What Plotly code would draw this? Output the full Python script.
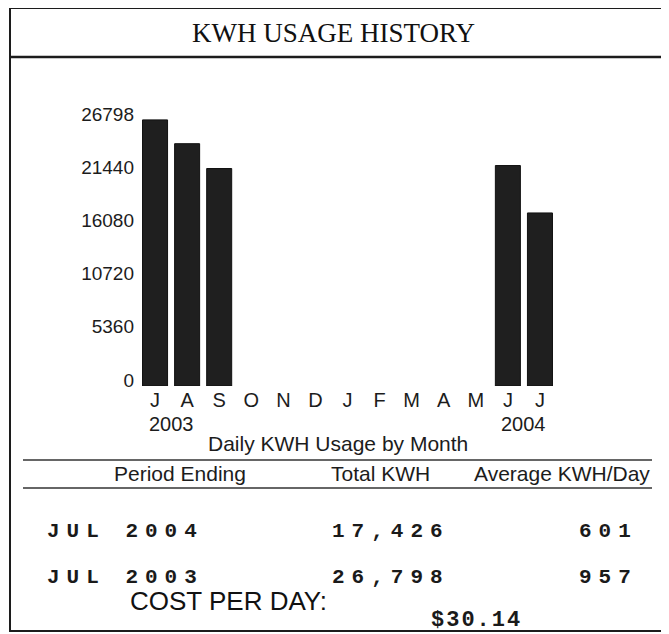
import plotly.graph_objects as go

# ---- data ----
month_labels = ["J", "A", "S", "O", "N", "D", "J", "F", "M", "A", "M", "J", "J"]
kwh_values = [26798, 24400, 21900, None, None, None, None, None, None, None, None, 22200, 17426]
year_labels = ["2003", "2004"]
y_tick_values = [0, 5360, 10720, 16080, 21440, 26798]

title_text = "KWH USAGE HISTORY"
axis_caption = "Daily KWH Usage by Month"
table_headers = ["Period Ending", "Total KWH", "Average KWH/Day"]
period_ending = ["JUL 2004", "JUL 2003"]
total_kwh = ["17,426", "26,798"]
avg_kwh_day = ["601", "957"]
cost_label = "COST PER DAY:"
cost_value = "$30.14"

# ---- layout geometry (window pixels; the page body adds an 8px offset) ----
OFF = 8
W_FIG, H_FIG = 669 - OFF, 634 - OFF
PLOT_L, PLOT_R, PLOT_T, PLOT_B = 139, 556, 100, 386  # in window pixels
ML = PLOT_L - OFF
MR = W_FIG - (PLOT_R - OFF)
MT = PLOT_T - OFF
MB = H_FIG - (PLOT_B - OFF)
PW = PLOT_R - PLOT_L
PH = PLOT_B - PLOT_T


def px(x):
    return (x - PLOT_L) / PW


def py(y):
    return (PLOT_B - y) / PH


INK = "#1c1c1c"
SANS = "Liberation Sans, Arial, Helvetica, sans-serif"
SERIF = "Liberation Serif, Times New Roman, serif"
MONO = "Liberation Mono, Courier New, monospace"

xs = list(range(len(month_labels)))

fig = go.Figure()
fig.add_trace(go.Bar(
    x=xs, y=kwh_values,
    marker=dict(color="#1f1f1f", line=dict(color="#111111", width=1)),
    hoverinfo="skip",
))

shapes = []
# outer border
shapes.append(dict(type="rect", xref="paper", yref="paper",
                   x0=px(10), x1=px(663), y0=py(8), y1=py(631),
                   line=dict(color=INK, width=2)))
# title separator
shapes.append(dict(type="line", xref="paper", yref="paper",
                   x0=px(10), x1=px(663), y0=py(57), y1=py(57),
                   line=dict(color=INK, width=2.5)))
# table lines
for yy in (460, 488):
    shapes.append(dict(type="line", xref="paper", yref="paper",
                       x0=px(23), x1=px(652), y0=py(yy), y1=py(yy),
                       line=dict(color="#333333", width=1.5)))

ann = []
ann.append(dict(text=title_text, xref="paper", yref="paper", x=px(333), y=py(33),
                showarrow=False, font=dict(family=SERIF, size=27, color="#111111"),
                xanchor="center", yanchor="middle"))
# year labels under first and last pairs of months
ann.append(dict(text=year_labels[0], xref="x", yref="paper", x=(xs[0] + xs[1]) / 2, y=py(424),
                showarrow=False, font=dict(family=SANS, size=20, color=INK),
                xanchor="center", yanchor="middle"))
ann.append(dict(text=year_labels[1], xref="x", yref="paper", x=(xs[-2] + xs[-1]) / 2, y=py(424),
                showarrow=False, font=dict(family=SANS, size=20, color=INK),
                xanchor="center", yanchor="middle"))
ann.append(dict(text=axis_caption, xref="paper", yref="paper", x=px(338), y=py(443),
                showarrow=False, font=dict(family=SANS, size=21, color=INK),
                xanchor="center", yanchor="middle"))
for txt, cx in zip(table_headers, (180, 380, 562)):
    ann.append(dict(text=txt, xref="paper", yref="paper", x=px(cx), y=py(473),
                    showarrow=False, font=dict(family=SANS, size=21, color=INK),
                    xanchor="center", yanchor="middle"))


def mono(t, spacing):
    return f'<span style="letter-spacing:{spacing}px">{t}</span>'


for i, yy in enumerate((531, 577)):
    for txt, lx in ((period_ending[i], 45), (total_kwh[i], 330), (avg_kwh_day[i], 577)):
        ann.append(dict(text=mono(txt, 7), xref="paper", yref="paper", x=px(lx), y=py(yy),
                        showarrow=False,
                        font=dict(family=MONO, size=21, color="#1a1a1a", weight="bold"),
                        xanchor="left", yanchor="middle"))
ann.append(dict(text=cost_label, xref="paper", yref="paper", x=px(128), y=py(601),
                showarrow=False, font=dict(family=SANS, size=26, color="#111111"),
                xanchor="left", yanchor="middle"))
ann.append(dict(text=mono(cost_value, 2), xref="paper", yref="paper", x=px(429), y=py(620),
                showarrow=False,
                font=dict(family=MONO, size=22, color="#1a1a1a", weight="bold"),
                xanchor="left", yanchor="middle"))

fig.update_layout(
    width=W_FIG, height=H_FIG,
    margin=dict(l=ML, r=MR, t=MT, b=MB, pad=0),
    paper_bgcolor="white", plot_bgcolor="white",
    showlegend=False, bargap=0.22,
    shapes=shapes, annotations=ann,
)
fig.update_xaxes(
    range=[-0.5, len(xs) - 0.5], tickmode="array", tickvals=xs, ticktext=month_labels,
    showgrid=False, zeroline=False, showline=False, ticks="",
    tickfont=dict(family=SANS, size=20, color=INK), fixedrange=True,
)
fig.update_yaxes(
    range=[0, 28800], tickmode="array", tickvals=y_tick_values,
    ticktext=[str(v) for v in y_tick_values],
    showgrid=False, zeroline=False, showline=False, ticks="",
    ticklabelshift=-6, ticklabelstandoff=4,
    tickfont=dict(family=SANS, size=19, color=INK), fixedrange=True,
)

fig.write_html("out.html")
